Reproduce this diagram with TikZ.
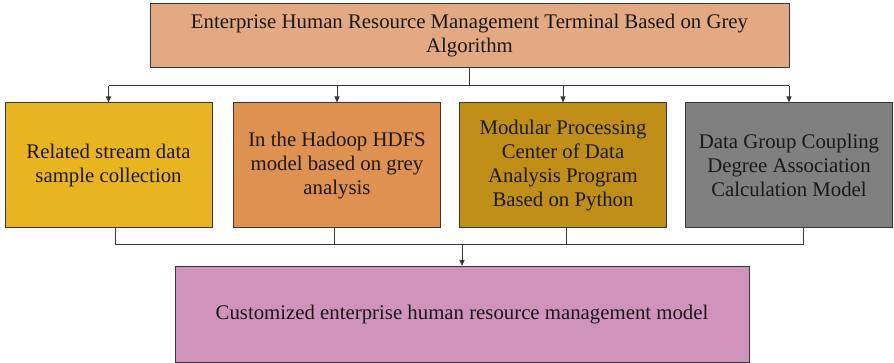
\documentclass[tikz,border=0pt]{standalone}
\usepackage{fontspec}
\setmainfont{Liberation Serif}
\usetikzlibrary{positioning}
\usetikzlibrary{arrows.meta}

\definecolor{topfill}{RGB}{226,169,130}
\definecolor{yellowfill}{RGB}{232,181,32}
\definecolor{orangefill}{RGB}{222,145,80}
\definecolor{goldfill}{RGB}{192,143,23}
\definecolor{greyfill}{RGB}{128,128,128}
\definecolor{pinkfill}{RGB}{208,147,188}
\definecolor{edge}{RGB}{55,55,55}

\tikzset{
  box/.style={draw=edge, line width=1pt, align=center, inner sep=0pt,
    text=black!90, font=\fontsize{20.8}{24}\selectfont},
  midbox/.style={box, minimum width=207pt, minimum height=125pt},
  link/.style={draw=edge, line width=1pt},
  tip/.style={link, -{Triangle[length=6pt,width=5pt]}}
}

\begin{document}
\begin{tikzpicture}[x=1pt,y=-1pt]
\useasboundingbox (0,0) rectangle (894,363);
\node[box, fill=topfill, minimum width=639pt, minimum height=64pt] (terminal) at (469.5,36)
  {Enterprise Human Resource Management Terminal Based on Grey\\Algorithm};
\node[midbox, fill=yellowfill] (stream) at (108.5,165.5)
  {Related stream data\\sample collection};
\node[midbox, fill=orangefill] (hadoop) at (337,165.5)
  {In the Hadoop HDFS\\model based on grey\\analysis};
\node[midbox, fill=goldfill] (python) at (563,165.5)
  {Modular Processing\\Center of Data\\Analysis Program\\Based on Python};
\node[midbox, fill=greyfill] (coupling) at (789,165.5)
  {Data Group Coupling\\Degree Association\\Calculation Model};
\node[box, fill=pinkfill, minimum width=574pt, minimum height=96pt] (model) at (462,314.5)
  {Customized enterprise human resource management model};

% top split
\coordinate (split) at (469.5,86);
\draw[link] (terminal.south) -- (split);
\draw[link] (stream.north |- split) -- (coupling.north |- split);
\draw[tip] (stream.north |- split) -- (stream.north);
\draw[tip] (hadoop.north |- split) -- (hadoop.north);
\draw[tip] (python.north |- split) -- (python.north);
\draw[tip] (coupling.north |- split) -- (coupling.north);

% bottom merge
\coordinate (merge) at (462,245);
\coordinate (s1) at ([xshift=6.5]stream.south);
\coordinate (s2) at ([xshift=-3]hadoop.south);
\coordinate (s3) at ([xshift=3]python.south);
\coordinate (s4) at ([xshift=14]coupling.south);
\draw[link] (s1) -- (s1 |- merge) -- (s4 |- merge) -- (s4);
\draw[link] (s2) -- (s2 |- merge);
\draw[link] (s3) -- (s3 |- merge);
\draw[tip] (merge) -- (model.north);
\end{tikzpicture}
\end{document}
